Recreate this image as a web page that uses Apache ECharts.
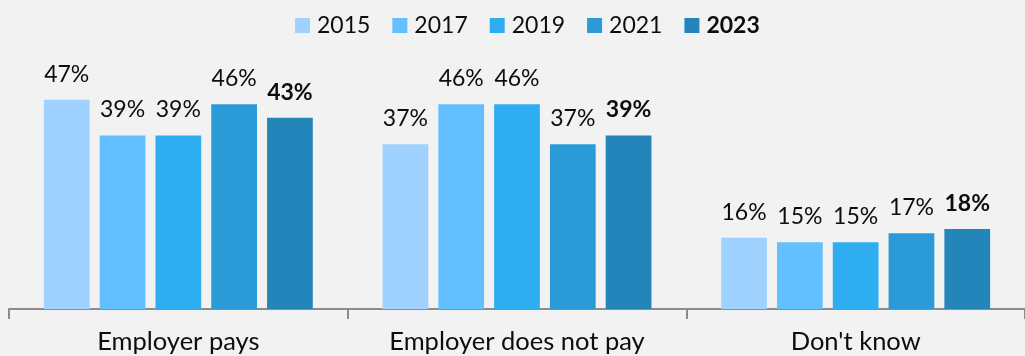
<!DOCTYPE html>
<html>
<head>
<meta charset="utf-8">
<style>
  html, body { margin: 0; padding: 0; background: #f2f2f2; }
  #chart { width: 1025px; height: 356px; }
</style>
<script src="https://cdn.jsdelivr.net/npm/echarts@6/dist/echarts.min.js"></script>
</head>
<body>
<div id="chart"></div>
<script>
// Who pays for the survey answer groups, by survey year (%)
const categories = ['Employer pays', 'Employer does not pay', "Don't know"];
const years = ['2015', '2017', '2019', '2021', '2023'];
const values2015 = [47, 37, 16];
const values2017 = [39, 46, 15];
const values2019 = [39, 46, 15];
const values2021 = [46, 37, 17];
const values2023 = [43, 39, 18];
const colors = ['#9fd2fe', '#63bffd', '#2eaef1', '#2b9bd8', '#2385ba'];

const seriesValues = [values2015, values2017, values2019, values2021, values2023];
const FONT = 'Lato';
const latest = years.length - 1;

const chart = echarts.init(document.getElementById('chart'), null, { renderer: 'canvas' });

const series = years.map((year, i) => ({
  name: year,
  type: 'bar',
  data: seriesValues[i],
  barGap: '22%',
  barCategoryGap: '20.6%',
  itemStyle: { color: colors[i] },
  label: {
    show: true,
    position: 'top',
    distance: 14,
    formatter: '{c}%',
    color: '#0d0d0d',
    fontFamily: FONT,
    fontSize: 23,
    fontWeight: i === latest ? 'bold' : 'normal'
  }
}));

chart.setOption({
  backgroundColor: '#f2f2f2',
  animation: false,
  color: colors,
  legend: {
    top: 9,
    left: 290,
    itemWidth: 15,
    itemHeight: 15,
    itemGap: 22,
    icon: 'rect',
    textStyle: { fontFamily: FONT, fontSize: 23, color: '#0d0d0d', padding: [0, 0, 0, 2] },
    data: years.map((y, i) => ({
      name: y,
      textStyle: { fontWeight: i === latest ? 'bold' : 'normal' }
    }))
  },
  grid: { left: 9, right: -4, top: 42, bottom: 47, containLabel: false },
  xAxis: {
    type: 'category',
    data: categories,
    axisLine: { lineStyle: { color: '#8c8c8c', width: 2 } },
    axisTick: { show: true, length: 10, lineStyle: { color: '#8c8c8c', width: 2 } },
    axisLabel: { fontFamily: FONT, fontSize: 25.5, color: '#0d0d0d', margin: 20 }
  },
  yAxis: {
    type: 'value',
    min: 0,
    max: 60,
    show: false,
    splitLine: { show: false }
  },
  series
});
</script>
</body>
</html>
